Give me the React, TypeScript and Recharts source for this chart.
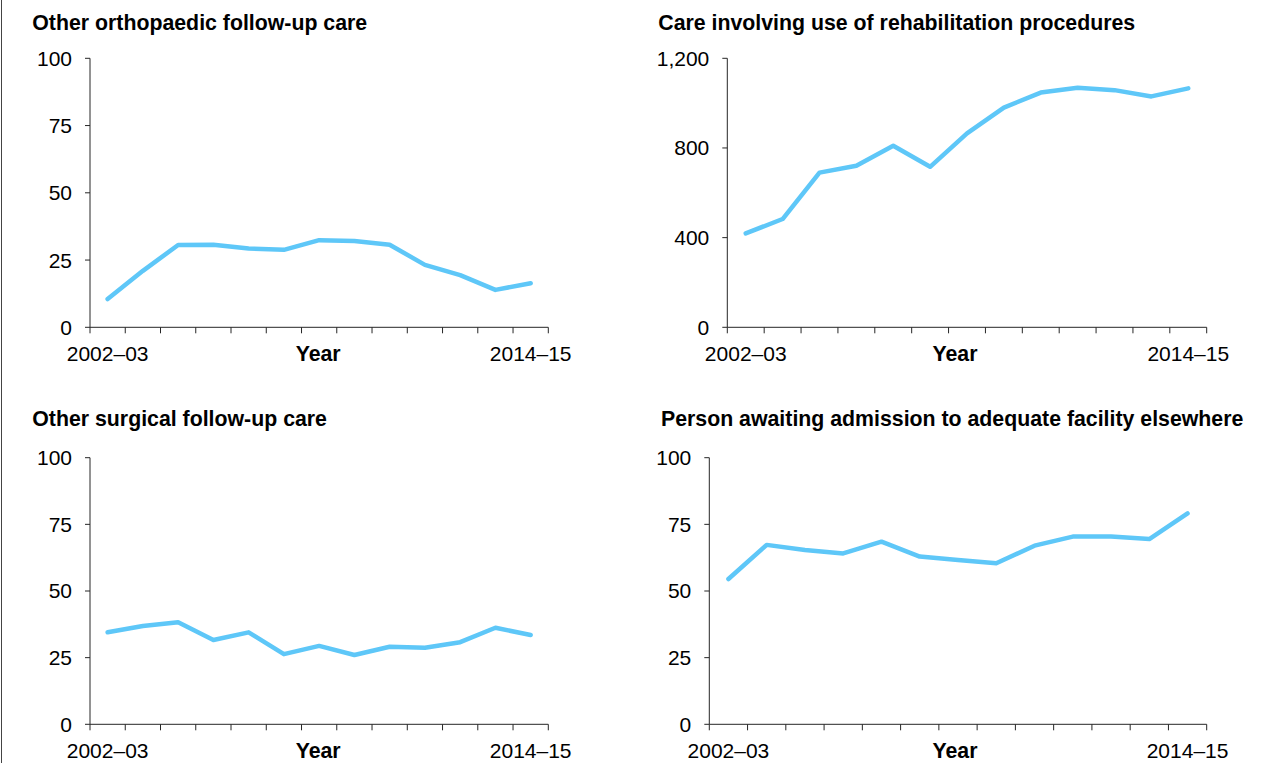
import React from 'react';
import { LineChart, Line, XAxis, YAxis } from 'recharts';

const categories = [
  '2002–03', '2003–04', '2004–05', '2005–06', '2006–07', '2007–08', '2008–09',
  '2009–10', '2010–11', '2011–12', '2012–13', '2013–14', '2014–15',
];
const orthopaedic = [10.5, 21.0, 30.6, 30.7, 29.3, 28.8, 32.4, 32.1, 30.7, 23.2, 19.4, 13.9, 16.4];
const rehabilitation = [419, 483, 690, 721, 810, 716, 865, 980, 1047, 1069, 1058, 1030, 1066];
const surgical = [34.5, 36.9, 38.3, 31.6, 34.5, 26.3, 29.4, 26.0, 29.1, 28.7, 30.8, 36.2, 33.5];
const awaiting = [54.5, 67.3, 65.4, 64.1, 68.5, 62.9, 61.6, 60.4, 67.0, 70.4, 70.4, 69.5, 79.1];

const pctTicks = [0, 25, 50, 75, 100];
const rehabTicks = [0, 400, 800, 1200];
const bandTicks = Array.from({ length: categories.length + 1 }, (_, i) => i);

const FONT = '"Liberation Sans", Arial, Helvetica, sans-serif';
const LINE = '#5ec7f8';
const AXIS = '#262626';

type PanelProps = {
  title: string;
  values: number[];
  yTicks: number[];
  yMax: number;
  left: number;
  top: number;
  width: number;
  height: number;
  plot: { left: number; right: number; top: number; bottom: number };
  titleLeft: number;
  titleBaseline: number;
  yearDx: number;
};

const fmt = (v: number) => v.toLocaleString('en-US');

function Panel(p: PanelProps) {
  const data = categories.map((c, i) => ({ x: i + 0.5, cat: c, v: p.values[i] }));
  const plotW = p.plot.right - p.plot.left;
  const band = plotW / categories.length;
  const last = categories.length;
  const X_AXIS_H = 30;
  const Y_AXIS_W = 60;
  const margin = {
    top: p.plot.top,
    left: p.plot.left - Y_AXIS_W,
    right: p.width - p.plot.right,
    bottom: p.height - p.plot.bottom - X_AXIS_H,
  };
  const textStyle = { fontFamily: FONT, fontSize: 21 };
  const renderTick = (props: any) => {
    const { x, y, payload } = props;
    const v = payload.value;
    const base = y + 28;
    if (v === 0) {
      return (
        <g>
          <text x={x + band / 2} y={base} textAnchor="middle" fill="#000" style={textStyle}>
            {categories[0]}
          </text>
          <text
            x={x + plotW / 2 + p.yearDx}
            y={base}
            textAnchor="middle"
            fill="#000"
            style={{ fontFamily: FONT, fontSize: 21.3, fontWeight: 'bold' }}
          >
            Year
          </text>
        </g>
      );
    }
    if (v === last) {
      return (
        <text x={x - band / 2} y={base} textAnchor="middle" fill="#000" style={textStyle}>
          {categories[last - 1]}
        </text>
      );
    }
    return <g />;
  };
  return (
    <div style={{ position: 'absolute', left: p.left, top: p.top, width: p.width, height: p.height }}>
      <div
        style={{
          position: 'absolute',
          left: p.titleLeft - p.left,
          top: p.titleBaseline - 18 - p.top,
          fontFamily: FONT,
          fontSize: 21.3,
          fontWeight: 'bold',
          lineHeight: 1,
          whiteSpace: 'nowrap',
          color: '#000',
        }}
      >
        {p.title}
      </div>
      <LineChart width={p.width} height={p.height} data={data} margin={margin}>
        <XAxis
          dataKey="x"
          type="number"
          domain={[0, last]}
          ticks={bandTicks}
          interval={0}
          tickSize={6}
          tickMargin={0}
          height={X_AXIS_H}
          stroke={AXIS}
          tick={renderTick}
          allowDecimals
        />
        <YAxis
          type="number"
          domain={[0, p.yMax]}
          ticks={p.yTicks}
          interval={0}
          tickSize={5}
          tickMargin={13}
          width={Y_AXIS_W}
          stroke={AXIS}
          tickFormatter={fmt}
          tick={{ fill: '#000', fontFamily: FONT, fontSize: 21 }}
        />
        <Line
          type="linear"
          dataKey="v"
          stroke={LINE}
          strokeWidth={4.5}
          strokeLinecap="round"
          strokeLinejoin="round"
          dot={false}
          activeDot={false}
          isAnimationActive={false}
        />
      </LineChart>
    </div>
  );
}

export default function App() {
  return (
    <div
      style={{
        position: 'absolute',
        left: 0,
        top: 0,
        width: 1271,
        height: 763,
        background: '#fff',
        overflow: 'hidden',
      }}
    >
      <div style={{ position: 'absolute', left: 1, top: 0, width: 1, height: 763, background: '#444' }} />
      <Panel
        title="Other orthopaedic follow-up care"
        values={orthopaedic}
        yTicks={pctTicks}
        yMax={100}
        left={0}
        top={0}
        width={640}
        height={380}
        plot={{ left: 90, right: 548.3, top: 58.3, bottom: 327.3 }}
        titleLeft={32.3}
        titleBaseline={30.5}
        yearDx={-1}
      />
      <Panel
        title="Care involving use of rehabilitation procedures"
        values={rehabilitation}
        yTicks={rehabTicks}
        yMax={1200}
        left={640}
        top={0}
        width={631}
        height={380}
        plot={{ left: 87.3, right: 566.7, top: 58.3, bottom: 327.3 }}
        titleLeft={658.3}
        titleBaseline={30.5}
        yearDx={-12}
      />
      <Panel
        title="Other surgical follow-up care"
        values={surgical}
        yTicks={pctTicks}
        yMax={100}
        left={0}
        top={380}
        width={640}
        height={383}
        plot={{ left: 90, right: 548.3, top: 77.7, bottom: 344.3 }}
        titleLeft={32.3}
        titleBaseline={427}
        yearDx={-1}
      />
      <Panel
        title="Person awaiting admission to adequate facility elsewhere"
        values={awaiting}
        yTicks={pctTicks}
        yMax={100}
        left={640}
        top={380}
        width={631}
        height={383}
        plot={{ left: 69.3, right: 566.7, top: 77.7, bottom: 344.3 }}
        titleLeft={661}
        titleBaseline={427}
        yearDx={-3}
      />
    </div>
  );
}
